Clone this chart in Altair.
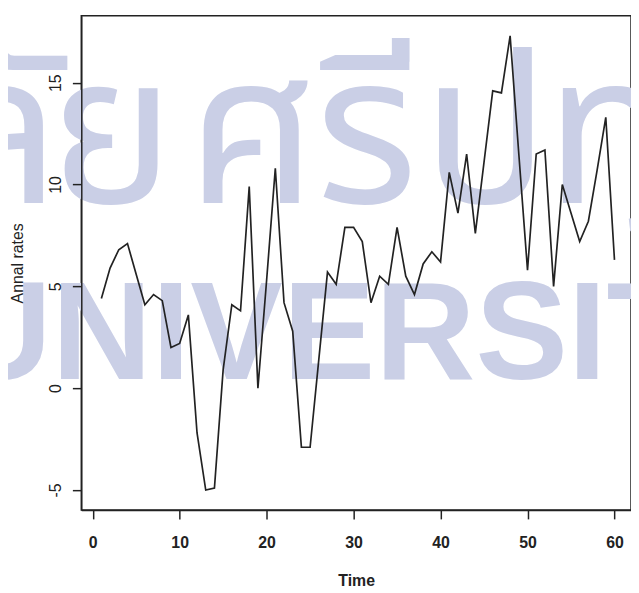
import altair as alt
import pandas as pd

# ---- data ----
time = list(range(1, 61))
rates = [4.4, 5.9, 6.8, 7.1, 5.6, 4.1, 4.6, 4.3, 2.0, 2.2,
         3.6, -2.2, -5.0, -4.9, 0.9, 4.1, 3.8, 9.9, 0.0, 5.3,
         10.8, 4.2, 2.8, -2.9, -2.9, 1.4, 5.7, 5.1, 7.9, 7.9,
         7.2, 4.2, 5.5, 5.1, 7.9, 5.5, 4.6, 6.1, 6.7, 6.2,
         10.6, 8.6, 11.5, 7.6, 11.1, 14.6, 14.5, 17.3, 11.5, 5.8,
         11.5, 11.7, 5.0, 10.0, 8.6, 7.2, 8.2, 10.7, 13.3, 6.3]
x_ticks = [0, 10, 20, 30, 40, 50, 60]
y_ticks = [-5, 0, 5, 10, 15]

# watermark text (background decoration of the reference image)
wm_thai_clusters = ["ลั", "ย", "ศ", "รี", "ป", "ทุ", "ม"]
wm_latin = "UNIVERSITY"

df = pd.DataFrame({"Time": time, "rate": rates})

# ---- layout / style ----
W, H = 555, 499
WM = "#CACFE6"
INK = "#222222"
thai_centers = [-82, 31, 173, 288, 408, 533, 653]   # pixel centres in plot area
THAI_FONT = "Noto Sans Thai, Noto Sans Thai UI, Kanit, Prompt, Loma, Garuda, Waree, sans-serif"

layers = []
for ch, cx in zip(wm_thai_clusters, thai_centers):
    layers.append(
        alt.Chart(pd.DataFrame({"t": [ch]})).mark_text(
            align="center", baseline="alphabetic", fontSize=212,
            font=THAI_FONT, color=WM,
        ).encode(text="t:N", x=alt.value(cx), y=alt.value(189))
    )

layers.append(
    alt.Chart(pd.DataFrame({"t": [wm_latin]})).mark_text(
        align="left", baseline="alphabetic", fontSize=140,
        font="Liberation Sans", fontWeight="bold", color=WM,
    ).encode(text="t:N", x=alt.value(-131), y=alt.value(367))
)

line = alt.Chart(df).mark_line(color=INK, strokeWidth=1.7).encode(
    x=alt.X("Time:Q",
            scale=alt.Scale(domain=[-1.31, 61.9], nice=False, zero=False),
            axis=alt.Axis(values=x_ticks, title="Time", labelExpr="'' + datum.value",
                          labelPadding=16, titlePadding=22, zindex=2,
                          labelFontWeight="bold", titleFontWeight="bold")),
    y=alt.Y("rate:Q",
            scale=alt.Scale(domain=[-5.98, 18.29], nice=False, zero=False),
            axis=alt.Axis(values=y_ticks, title="Annal rates", labelExpr="'' + datum.value",
                          labelAngle=270, labelAlign="center", labelBaseline="bottom",
                          labelPadding=9, titlePadding=22, zindex=2,
                          titleFontWeight="normal")),
)
layers.append(line)

chart = alt.layer(*layers).properties(
    width=W, height=H,
    autosize=alt.AutoSizeParams(type="none"),
    padding={"left": 74, "top": 5, "right": 0, "bottom": 80},
).configure_view(
    stroke=INK, strokeWidth=1.5
).configure_axis(
    grid=False,
    domainColor=INK, domainWidth=1.5,
    tickColor=INK, tickWidth=1.5, tickSize=9,
    labelFont="Liberation Sans", labelFontSize=16, labelColor=INK,
    titleFont="Liberation Sans", titleFontSize=16, titleColor=INK,
)

chart.save("out.html", embed_options={"renderer": "svg", "actions": False})
